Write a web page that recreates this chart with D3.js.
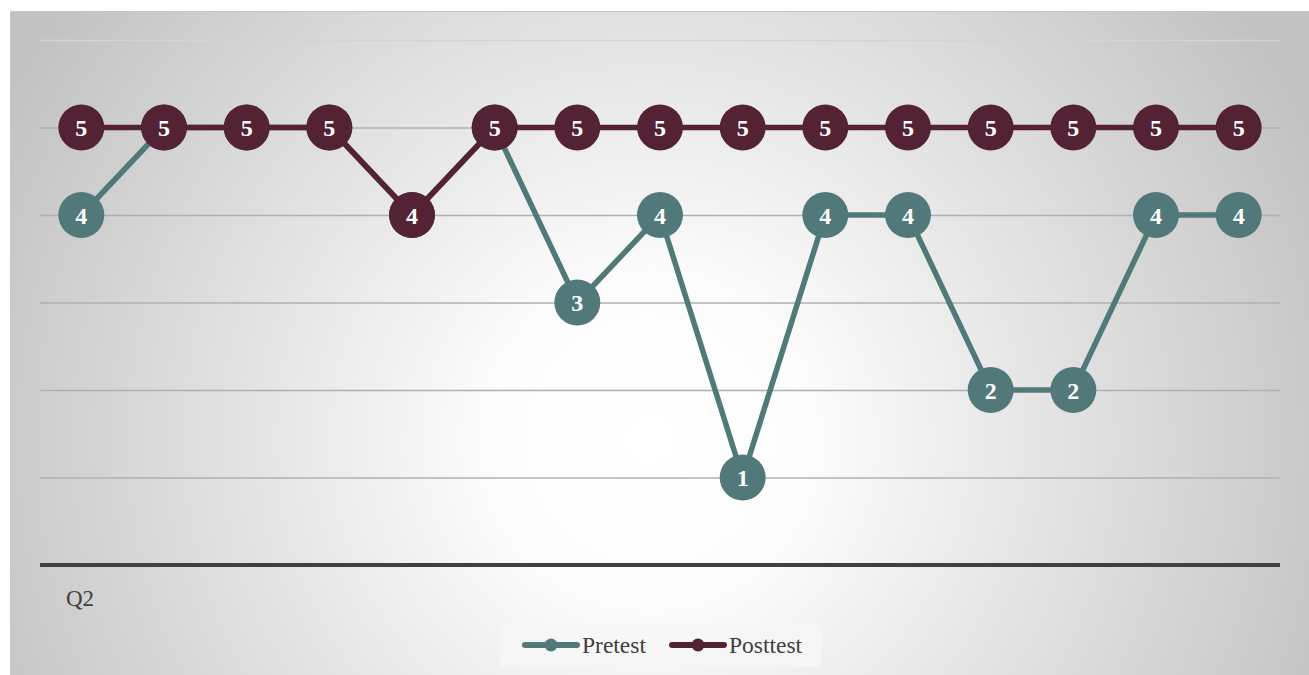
<!DOCTYPE html>
<html>
<head>
<meta charset="utf-8">
<script src="https://cdn.jsdelivr.net/npm/d3@7"></script>
<style>
  html, body { margin: 0; padding: 0; background: #ffffff; }
  svg { display: block; }
</style>
</head>
<body>
<svg id="chart" width="1309" height="675"></svg>
<script>
// Item scores for question Q2, one point per respondent
const respondents = d3.range(1, 16);
const pretest  = [4, 5, 5, 5, 4, 5, 3, 4, 1, 4, 4, 2, 2, 4, 4];
const posttest = [5, 5, 5, 5, 4, 5, 5, 5, 5, 5, 5, 5, 5, 5, 5];
const yTicks = [0, 1, 2, 3, 4, 5, 6];
const categoryLabel = "Q2";
const seriesNames = ["Pretest", "Posttest"];
const seriesColors = ["#52797a", "#532235"];

const svg = d3.select("#chart");

// Panel background: soft radial gradient
const defs = svg.append("defs");
const grad = defs.append("radialGradient")
  .attr("id", "bg").attr("gradientUnits", "userSpaceOnUse")
  .attr("cx", 650).attr("cy", 440).attr("r", 730);
grad.append("stop").attr("offset", "0%").attr("stop-color", "#ffffff");
grad.append("stop").attr("offset", "22%").attr("stop-color", "#fcfcfc");
grad.append("stop").attr("offset", "100%").attr("stop-color", "#c2c2c2");

svg.append("rect")
  .attr("x", 10.5).attr("y", 11.5).attr("width", 1305).attr("height", 670)
  .attr("fill", "url(#bg)").attr("stroke", "#c8c8c8").attr("stroke-width", 1);

const plot = { left: 40, right: 1280, top: 40, bottom: 565 };

const x = d3.scaleBand().domain(respondents).range([plot.left, plot.right]);
const y = d3.scaleLinear().domain([0, 6]).range([plot.bottom, plot.top]);

// Horizontal gridlines
const yAxis = d3.axisLeft(y).tickValues(yTicks.filter(d => d > 0))
  .tickSize(-(plot.right - plot.left)).tickFormat("");
const gy = svg.append("g").attr("transform", `translate(${plot.left},0)`).call(yAxis);
gy.select(".domain").remove();
gy.selectAll(".tick line")
  .attr("stroke", d => d === 6 ? "#d4d4d4" : "#b0b0b0")
  .attr("stroke-width", 1.3);

// Category axis line
svg.append("line")
  .attr("x1", plot.left).attr("x2", plot.right)
  .attr("y1", y(0)).attr("y2", y(0))
  .attr("stroke", "#404040").attr("stroke-width", 4);

svg.append("text")
  .attr("x", 66).attr("y", 606)
  .attr("font-family", "'Liberation Serif', 'Times New Roman', serif")
  .attr("font-size", 23).attr("fill", "#404040")
  .text(categoryLabel);

const line = d3.line()
  .x((d, i) => x(respondents[i]) + x.bandwidth() / 2)
  .y(d => y(d));

const series = [pretest, posttest];
series.forEach((vals, si) => {
  const g = svg.append("g");
  g.append("path")
    .attr("d", line(vals))
    .attr("fill", "none")
    .attr("stroke", seriesColors[si])
    .attr("stroke-width", 5.5)
    .attr("stroke-linejoin", "round");
  const pts = g.selectAll("g.pt").data(vals).join("g")
    .attr("transform", (d, i) => `translate(${x(respondents[i]) + x.bandwidth() / 2},${y(d)})`);
  pts.append("circle").attr("r", 23).attr("fill", seriesColors[si]);
  pts.append("text")
    .attr("text-anchor", "middle").attr("dy", "0.36em")
    .attr("font-family", "'Liberation Serif', 'Times New Roman', serif")
    .attr("font-weight", "bold").attr("font-size", 24)
    .attr("fill", "#ffffff")
    .text(d => d);
});

// Legend
const lg = svg.append("g");
lg.append("rect").attr("x", 500).attr("y", 624).attr("width", 321).attr("height", 43)
  .attr("fill", "#f6f6f6").attr("fill-opacity", 0.9);
const legendX = [523, 670];
seriesNames.forEach((name, i) => {
  const gx = legendX[i];
  const cy = 645;
  lg.append("line").attr("x1", gx + 2).attr("x2", gx + 54).attr("y1", cy).attr("y2", cy)
    .attr("stroke", seriesColors[i]).attr("stroke-width", 6).attr("stroke-linecap", "round");
  lg.append("circle").attr("cx", gx + 28).attr("cy", cy).attr("r", 6.5).attr("fill", seriesColors[i]);
  lg.append("text").attr("x", gx + 59).attr("y", cy + 8)
    .attr("font-family", "'Liberation Serif', 'Times New Roman', serif")
    .attr("font-size", 23.5).attr("fill", "#404040")
    .text(name);
});
</script>
</body>
</html>
